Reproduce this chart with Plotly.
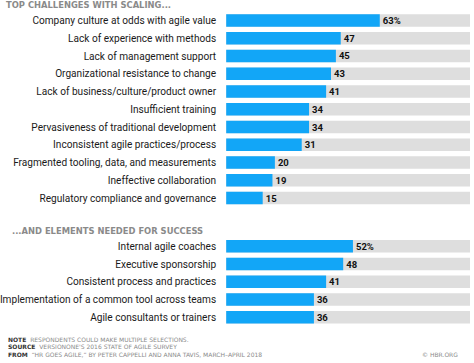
import plotly.graph_objects as go

challenges = [
    "Company culture at odds with agile value",
    "Lack of experience with methods",
    "Lack of management support",
    "Organizational resistance to change",
    "Lack of business/culture/product owner",
    "Insufficient training",
    "Pervasiveness of traditional development",
    "Inconsistent agile practices/process",
    "Fragmented tooling, data, and measurements",
    "Ineffective collaboration",
    "Regulatory compliance and governance",
]
challenge_values = [63, 47, 45, 43, 41, 34, 34, 31, 20, 19, 15]

elements = [
    "Internal agile coaches",
    "Executive sponsorship",
    "Consistent process and practices",
    "Implementation of a common tool across teams",
    "Agile consultants or trainers",
]
element_values = [52, 48, 41, 36, 36]

BLUE = "#12a6f7"
GRAY = "#dedede"
FONT = "Roboto"
TFONT = "DejaVu Sans"
H = 363.0
W = 474.0

def py(px):
    return 1 - px / H

def labels(vals):
    return [f"{v}%" if i == 0 else f"{v}" for i, v in enumerate(vals)]

fig = go.Figure()
for cats, vals, xa, ya in [(challenges, challenge_values, "x", "y"),
                           (elements, element_values, "x2", "y2")]:
    fig.add_trace(go.Bar(y=cats, x=[100] * len(cats), orientation="h",
                         marker=dict(color=GRAY, line=dict(width=0)),
                         xaxis=xa, yaxis=ya, hoverinfo="skip", showlegend=False))
    fig.add_trace(go.Bar(y=cats, x=vals, orientation="h",
                         marker=dict(color=BLUE, line=dict(width=0)),
                         text=labels(vals), textposition="outside",
                         textfont=dict(family=FONT, size=9.5, color="#111111", weight="bold"),
                         cliponaxis=False,
                         xaxis=xa, yaxis=ya, showlegend=False))

xdom = [224 / W, 470 / W]
axis_common = dict(range=[0, 100], showgrid=False, zeroline=False, showticklabels=False,
                   fixedrange=True)
yaxis_common = dict(showgrid=False, zeroline=False, autorange="reversed",
                    tickfont=dict(family=FONT, size=10.1, color="#1a1a1a"),
                    ticks="", ticklabelstandoff=9, type="category")

fig.update_layout(
    width=474, height=363,
    margin=dict(l=0, r=0, t=0, b=0),
    paper_bgcolor="white", plot_bgcolor="white",
    barmode="overlay", bargap=0.29,
    xaxis=dict(domain=xdom, anchor="y", **axis_common),
    yaxis=dict(domain=[py(206.9), py(11.6)], anchor="x", **yaxis_common),
    xaxis2=dict(domain=xdom, anchor="y2", **axis_common),
    yaxis2=dict(domain=[py(326.2), py(237.4)], anchor="x2", **yaxis_common),
)

ann = []
ann.append(dict(text="TOP CHALLENGES WITH SCALING...", x=0, y=py(5), xref="paper", yref="paper",
                xanchor="left", yanchor="middle", showarrow=False,
                font=dict(family=TFONT, size=8.4, color="#8a8a8a", weight="bold")))
ann.append(dict(text="...AND ELEMENTS NEEDED FOR SUCCESS", x=6 / W, y=py(231), xref="paper", yref="paper",
                xanchor="left", yanchor="middle", showarrow=False,
                font=dict(family=TFONT, size=8.4, color="#8a8a8a", weight="bold")))
foot = [
    ("NOTE", "RESPONDENTS COULD MAKE MULTIPLE SELECTIONS.", 339.0),
    ("SOURCE", "VERSIONONE'S 2016 STATE OF AGILE SURVEY", 346.7),
    ("FROM", "\u201cHR GOES AGILE,\u201d BY PETER CAPPELLI AND ANNA TAVIS, MARCH\u2013APRIL 2018", 354.4),
]
for k, t, yy in foot:
    ann.append(dict(text=f"<b>{k}</b>  <span style='color:#8a8a8a'>{t}</span>", x=2 / W, y=py(yy),
                    xref="paper", yref="paper", xanchor="left", yanchor="middle", showarrow=False,
                    font=dict(family=TFONT, size=6.0, color="#333333")))
ann.append(dict(text="\u00a9 HBR.ORG", x=460 / W, y=py(354.4), xref="paper", yref="paper",
                xanchor="right", yanchor="middle", showarrow=False,
                font=dict(family=TFONT, size=6.0, color="#8a8a8a")))
fig.update_layout(annotations=ann)

fig.write_html("out.html", config={"displayModeBar": False},
               post_script="document.body.style.margin='0';document.body.style.padding='0';")
